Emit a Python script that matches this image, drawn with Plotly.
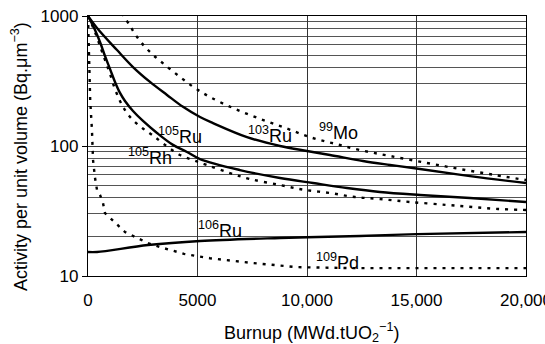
import plotly.graph_objects as go

# Burnup (MWd/tUO2) and activity per unit volume (Bq/um^3) for each nuclide
ru103_x = [0, 411, 1324, 2055, 2831, 3607, 4338, 5114, 5708, 7260, 8767, 10000, 11050, 12557, 13790, 15160, 17443, 20000]
ru103_y = [1000, 809, 547, 405, 311, 247, 200, 167, 150, 117, 100, 91.5, 85.3, 76.7, 71.5, 66.5, 58.7, 51.9]

ru105_x = [0, 320, 548, 776, 1005, 1233, 1461, 1689, 2055, 2511, 3151, 3881, 4521, 5114, 6941, 8767, 10274, 11826, 13333, 15160, 17443, 20000]
ru105_y = [1000, 780, 631, 492, 391, 311, 256, 222, 186, 156, 126, 102, 90, 79.4, 65.3, 56.7, 51.9, 47.5, 44.3, 42, 39.8, 37.1]

rh105_x = [0, 320, 548, 776, 1005, 1233, 1461, 1689, 2009, 2466, 2922, 3516, 4201, 4795, 5434, 6484, 7397, 8767, 9909, 11050, 12192, 13333, 14703, 16393, 17580, 18721, 20000]
rh105_y = [1000, 753, 588, 459, 358, 274, 222, 189, 161, 138, 122, 102, 85.3, 78, 71.4, 61.9, 55.7, 50.1, 45.9, 43.5, 40.5, 39.1, 37.1, 35.2, 33.9, 32.8, 32.2]

mo99_x = [1553, 1918, 2374, 2922, 3516, 4201, 4886, 5571, 6621, 7763, 8995, 10137, 11279, 12420, 13790, 15479, 16986, 18584, 20000]
mo99_y = [1055, 838, 642, 511, 420, 340, 279, 238, 196, 164, 138, 117, 104, 93.1, 83.8, 74, 66.5, 59.8, 54.7]

ru106_x = [0, 411, 2740, 5114, 8767, 12420, 15023, 20000]
ru106_y = [15.3, 15.3, 17.3, 18.6, 19.6, 20.3, 21.0, 21.8]

pd109_x = [0, 50, 100, 180, 230, 320, 410, 550, 685, 775, 1233, 1689, 2740, 3288, 4384, 5571, 7489, 9543, 12000, 20000]
pd109_y = [1000, 458, 226, 133, 78, 57, 46, 42, 36.5, 30.5, 25.6, 21.8, 17.9, 16.7, 14.8, 13.7, 12.6, 11.7, 11.5, 11.5]

x_ticks = [0, 5000, 10000, 15000, 20000]
x_tick_text = ["0", "5000", "10,000", "15,000", "20,000"]
y_ticks = [10, 100, 1000]
y_tick_text = ["10", "100", "1000"]
y_minor = [20, 30, 40, 50, 60, 70, 80, 90, 200, 300, 400, 500, 600, 700, 800, 900]

FONT = "Liberation Sans, Arial, sans-serif"
SOLID = dict(color="black", width=2.4)
DASHED = dict(color="black", width=2.4, dash="3px,6px")

fig = go.Figure()
for xs, ys, ln, shape in [
    (ru103_x, ru103_y, SOLID, "spline"),
    (ru105_x, ru105_y, SOLID, "spline"),
    (rh105_x, rh105_y, DASHED, "spline"),
    (mo99_x, mo99_y, DASHED, "spline"),
    (ru106_x, ru106_y, SOLID, "spline"),
    (pd109_x, pd109_y, DASHED, "linear"),
]:
    fig.add_trace(go.Scatter(x=xs, y=ys, mode="lines", line=dict(shape=shape, **ln),
                             showlegend=False, hoverinfo="skip"))

# nuclide labels (y given in log10 units on the log axis)
labels = [
    ("<sup>105</sup>Ru", 4201, 2.077),
    ("<sup>105</sup>Rh", 2831, 1.923),
    ("<sup>103</sup>Ru", 8311, 2.092),
    ("<sup>99</sup>Mo", 11416, 2.115),
    ("<sup>106</sup>Ru", 6027, 1.354),
    ("<sup>109</sup>Pd", 11370, 1.115),
]
annotations = [
    dict(text=t, x=x, y=y, xref="x", yref="y", showarrow=False,
         font=dict(family=FONT, size=18, color="black"))
    for t, x, y in labels
]
annotations.append(dict(text="Burnup (MWd.tUO<sub>2</sub><sup>−1</sup>)", x=0.51, y=-0.218,
                        xref="paper", yref="paper", showarrow=False, yanchor="middle",
                        font=dict(family=FONT, size=18, color="black")))
annotations.append(dict(text="Activity per unit volume (Bq.μm<sup>−3</sup>)", x=-0.156, y=0.46,
                        xref="paper", yref="paper", showarrow=False, textangle=-90,
                        xanchor="center", yanchor="middle",
                        font=dict(family=FONT, size=18, color="black")))

fig.update_layout(
    width=545, height=344,
    margin=dict(l=88, r=19, t=16, b=68),
    paper_bgcolor="white", plot_bgcolor="white",
    font=dict(family=FONT, size=18, color="black"),
    annotations=annotations,
)
fig.update_xaxes(
    range=[0, 20000], tickvals=x_ticks, ticktext=x_tick_text,
    showgrid=True, gridcolor="#333", gridwidth=1,
    showline=True, linecolor="black", linewidth=1.3, mirror=True,
    ticks="", zeroline=False, tickfont=dict(size=17),
    ticklabelstandoff=8, ticklabeloverflow="allow", automargin=False,
)
fig.update_yaxes(
    type="log", range=[1, 3], tickvals=y_ticks, ticktext=y_tick_text,
    showgrid=True, gridcolor="#333", gridwidth=1,
    minor=dict(tickvals=y_minor, showgrid=True, gridcolor="#555", gridwidth=1, ticks=""),
    showline=True, linecolor="black", linewidth=1.3, mirror=True,
    ticks="outside", ticklen=5, tickcolor="black", zeroline=False, tickfont=dict(size=17),
    automargin=False,
)

fig.write_html("out.html")
